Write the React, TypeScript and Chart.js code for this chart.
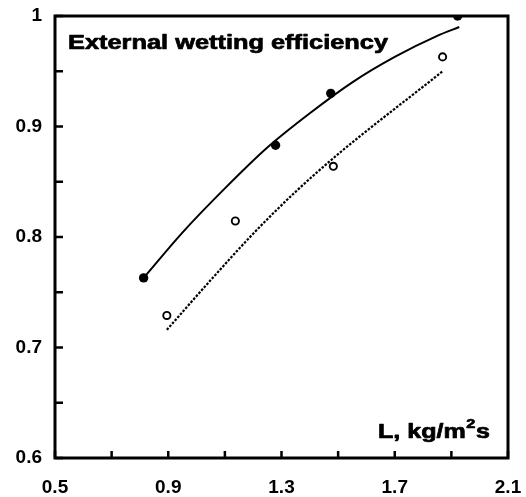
import React, { useEffect, useRef } from 'react';
import { Chart, registerables } from 'chart.js';

Chart.register(...registerables);

const titleText = 'External wetting efficiency';
const axisLabelMain = 'L, kg/m';
const axisLabelSup = '2';
const axisLabelEnd = 's';

const xTickLabels = ['0.5', '0.9', '1.3', '1.7', '2.1'];
const yTickLabels = ['0.6', '0.7', '0.8', '0.9', '1'];

const filledX = [0.813, 1.279, 1.474, 1.922];
const filledY = [0.763, 0.883, 0.930, 1.0];
const openX = [0.895, 1.137, 1.483, 1.869];
const openY = [0.729, 0.8145, 0.864, 0.963];

const solidCurveX = [0.813, 0.95, 1.10, 1.25, 1.40, 1.55, 1.70, 1.85, 1.928];
const solidCurveY = [0.763, 0.804, 0.844, 0.881, 0.912, 0.940, 0.963, 0.982, 0.990];
const dottedCurveX = [0.895, 1.05, 1.20, 1.35, 1.50, 1.65, 1.80, 1.869];
const dottedCurveY = [0.716, 0.761, 0.803, 0.841, 0.875, 0.906, 0.936, 0.950];

const FONT = "'Liberation Sans', Arial, Helvetica, sans-serif";

const zip = (xs: number[], ys: number[]) => xs.map((x, i) => ({ x, y: ys[i] }));

export default function App() {
  const ref = useRef<HTMLCanvasElement>(null);

  useEffect(() => {
    const canvas = ref.current;
    if (!canvas) return;

    const decor = {
      id: 'decor',
      afterDraw(chart: any) {
        const ctx = chart.ctx as CanvasRenderingContext2D;
        const a = chart.chartArea;
        const xs = chart.scales.x;
        const ys = chart.scales.y;
        ctx.save();
        ctx.strokeStyle = '#000';
        ctx.fillStyle = '#000';
        // inward tick marks
        ctx.lineWidth = 2.5;
        ctx.beginPath();
        xs.ticks.forEach((_t: any, i: number) => {
          const px = xs.getPixelForTick(i);
          ctx.moveTo(px, a.bottom);
          ctx.lineTo(px, a.bottom - 7);
        });
        ys.ticks.forEach((_t: any, i: number) => {
          const py = ys.getPixelForTick(i);
          ctx.moveTo(a.left, py);
          ctx.lineTo(a.left + 8, py);
        });
        ctx.stroke();
        // frame
        ctx.lineWidth = 3;
        ctx.strokeRect(a.left, a.top, a.right - a.left, a.bottom - a.top);

        // title inside plot
        ctx.font = `bold 20px ${FONT}`;
        ctx.textBaseline = 'alphabetic';
        ctx.textAlign = 'left';
        ctx.lineWidth = 0.7;
        ctx.lineJoin = 'round';
        const tw = ctx.measureText(titleText).width;
        ctx.save();
        ctx.translate(a.left + 13, a.top + 32.5);
        ctx.scale(320 / tw, 1);
        ctx.fillText(titleText, 0, 0);
        ctx.strokeText(titleText, 0, 0);
        ctx.restore();

        // axis label with superscript
        ctx.font = `bold 20px ${FONT}`;
        const w1 = ctx.measureText(axisLabelMain).width;
        const w3 = ctx.measureText(axisLabelEnd).width;
        ctx.font = `bold 13px ${FONT}`;
        const w2 = ctx.measureText(axisLabelSup).width;
        const total = w1 + w2 + 1 + w3;
        const sx = 112 / total;
        ctx.save();
        ctx.translate(a.right - 130, a.bottom - 20);
        ctx.scale(sx, 1);
        ctx.font = `bold 20px ${FONT}`;
        ctx.fillText(axisLabelMain, 0, 0);
        ctx.strokeText(axisLabelMain, 0, 0);
        ctx.font = `bold 13px ${FONT}`;
        ctx.fillText(axisLabelSup, w1 + 0.5, -10);
        ctx.strokeText(axisLabelSup, w1 + 0.5, -10);
        ctx.font = `bold 20px ${FONT}`;
        ctx.fillText(axisLabelEnd, w1 + w2 + 1, 0);
        ctx.strokeText(axisLabelEnd, w1 + w2 + 1, 0);
        ctx.restore();
        ctx.restore();
      },
    };

    const zeroPad = (s: any) => {
      s.paddingTop = 0;
      s.paddingBottom = 0;
      s.paddingLeft = 0;
      s.paddingRight = 0;
    };

    const chart = new Chart(canvas, {
      type: 'scatter',
      data: {
        datasets: [
          {
            type: 'line',
            data: zip(solidCurveX, solidCurveY),
            borderColor: '#000',
            borderWidth: 2,
            pointRadius: 0,
            fill: false,
            cubicInterpolationMode: 'monotone',
          } as any,
          {
            type: 'line',
            data: zip(dottedCurveX, dottedCurveY),
            borderColor: '#000',
            borderWidth: 2.2,
            borderDash: [2.5, 1.5],
            pointRadius: 0,
            fill: false,
            cubicInterpolationMode: 'monotone',
          } as any,
          {
            data: zip(filledX, filledY),
            pointRadius: 4.7,
            pointBackgroundColor: '#000',
            pointBorderColor: '#000',
            pointBorderWidth: 0,
            showLine: false,
          },
          {
            data: zip(openX, openY),
            pointRadius: 3.6,
            pointBackgroundColor: '#fff',
            pointBorderColor: '#000',
            pointBorderWidth: 1.9,
            showLine: false,
          },
        ],
      },
      options: {
        responsive: false,
        animation: false,
        devicePixelRatio: 1,
        layout: { padding: { top: 16, right: 18, left: 0, bottom: 0 } },
        plugins: {
          legend: { display: false },
          tooltip: { enabled: false },
          title: { display: false },
        },
        scales: {
          x: {
            type: 'linear',
            min: 0.5,
            max: 2.1,
            afterFit: (s: any) => {
              s.height = 39;
              zeroPad(s);
            },
            grid: { display: false, drawTicks: false },
            border: { display: false },
            ticks: {
              stepSize: 0.2,
              autoSkip: false,
              maxRotation: 0,
              padding: 18,
              color: '#000',
              font: { family: FONT, size: 19, weight: 'bold' },
              callback: (_v: any, i: number) => (i % 2 === 0 ? xTickLabels[i / 2] : ''),
            },
          },
          y: {
            type: 'linear',
            min: 0.6,
            max: 1.0,
            afterFit: (s: any) => {
              s.width = 55;
              zeroPad(s);
            },
            grid: { display: false, drawTicks: false },
            border: { display: false },
            ticks: {
              stepSize: 0.05,
              autoSkip: false,
              padding: 13,
              color: '#000',
              font: { family: FONT, size: 19, weight: 'bold' },
              callback: (_v: any, i: number) => (i % 2 === 0 ? yTickLabels[i / 2] : ''),
            },
          },
        },
      } as any,
      plugins: [decor],
    });

    return () => chart.destroy();
  }, []);

  return (
    <div style={{ position: 'absolute', left: 0, top: 0, width: 526, height: 497, background: '#fff' }}>
      <canvas ref={ref} width={526} height={497} style={{ display: 'block' }} />
    </div>
  );
}
